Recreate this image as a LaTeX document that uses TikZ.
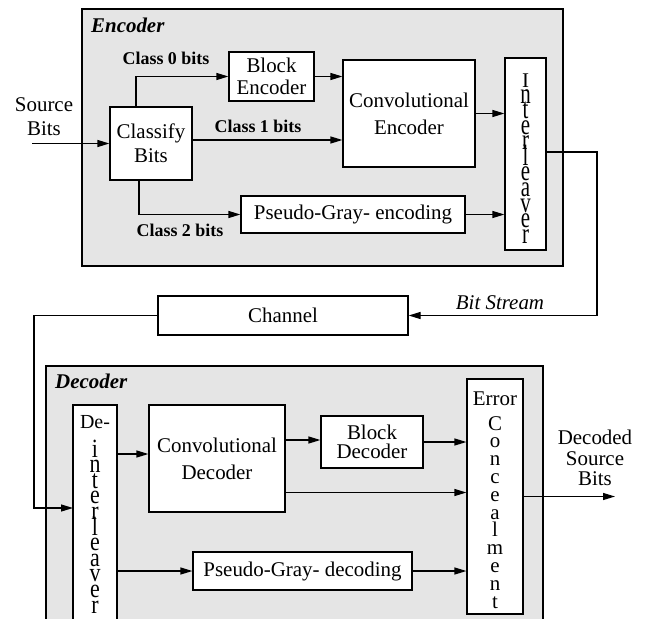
\documentclass[tikz,border=0pt]{standalone}
\usepackage{fontspec}
\usepackage{graphicx}
\setmainfont{Liberation Serif}
\usetikzlibrary{arrows.meta}

% tall, narrow letters for the vertical block labels
\newcommand\tallI[1]{\scalebox{1}[1.4]{#1}}
\newcommand\tallD[1]{\scalebox{1}[1.2]{#1}}

\tikzset{
  frame/.style={draw, fill=black!10, line width=1.2bp},
  box/.style={draw, fill=white, line width=1.2bp, inner sep=0pt, align=center,
              font=\fontsize{21}{24}\selectfont},
  arr/.style={line width=1.2bp, -{Triangle[length=12bp,width=7bp]}},
  classlbl/.style={inner sep=0pt, font=\fontsize{18}{20}\selectfont\bfseries},
  titlelbl/.style={inner sep=0pt, anchor=west, font=\fontsize{21}{24}\selectfont\bfseries\itshape},
  plainlbl/.style={inner sep=0pt, align=center, font=\fontsize{21}{24}\selectfont},
  vlet/.style={inner sep=0pt, anchor=base, font=\fontsize{21}{24}\selectfont},
}

\begin{document}
\begin{tikzpicture}[x=1bp,y=-1bp]
\useasboundingbox (0,0) rectangle (646,619);
\clip (0,0) rectangle (646,619);

% grey frames around encoder and decoder
\filldraw[frame] (82,9) rectangle (563,266);
\filldraw[frame] (46,366) rectangle (543,640);
\node[titlelbl] (enctitle) at (91,25) {Encoder};
\node[titlelbl] (dectitle) at (55,381) {Decoder};

% ---------------- encoder ----------------
\node[box, minimum width=82bp, minimum height=73bp] (cls) at (151,143.5) {Classify\\Bits};
\node[box, minimum width=85bp, minimum height=49bp, font=\fontsize{21}{22}\selectfont] (benc) at (271.5,76.5) {Block\\Encoder};
\node[box, minimum width=132bp, minimum height=107bp, font=\fontsize{21}{27}\selectfont] (cenc) at (409,113.5) {Convolutional\\Encoder};
\node[box, minimum width=41bp, minimum height=192bp] (intl) at (525.5,154) {};
\node[vlet] (intl-0) at (525.5,88) {I};
\foreach \ch [count=\k] in {n,t,e,r,l,e,a,v,e,r}
  \node[vlet] (intl-\k) at (525.5,{88+15.5*\k}) {\tallI{\ch}};
\node[box, minimum width=224bp, minimum height=37bp] (penc) at (353,214.5) {Pseudo-Gray- encoding};

\node[plainlbl] (srclbl) at (44,117) {Source\\Bits};
\node[classlbl] (c0lbl) at (166,58) {Class 0 bits};
\node[classlbl] (c1lbl) at (258,126) {Class 1 bits};
\node[classlbl] (c2lbl) at (180,230) {Class 2 bits};

\coordinate (src) at (32,143.5);
\coordinate (c0x) at (136,0);
\coordinate (c2x) at (139,0);
\coordinate (c1y) at (0,140);

\draw[arr] (src) -- (cls.west);
\draw[arr] (cls.north -| c0x) |- (benc.west);
\draw[arr] (benc.east) -- (benc.east -| cenc.west);
\draw[arr] (cls.east |- c1y) -- (cenc.west |- c1y);
\draw[arr] (cenc.east) -- (cenc.east -| intl.west);
\draw[arr] (cls.south -| c2x) |- (penc.west);
\draw[arr] (penc.east) -- (penc.east -| intl.west);

% ---------------- channel ----------------
\node[box, minimum width=250bp, minimum height=39bp] (chan) at (283,315.5) {Channel};
\node[plainlbl, font=\fontsize{21}{24}\selectfont\itshape] (bslbl) at (500,303) {Bit Stream};

\coordinate (outR) at (597,152);
\coordinate (chL) at (34,315.5);
\coordinate (dIn) at (73,508);
\draw[arr] (intl.east |- outR) -- (outR) |- (chan.east);
\draw[arr] (chan.west) -- (chL) |- (dIn);

% ---------------- decoder ----------------
% the de-interleaver runs on past the lower edge of the drawing
\node[box, minimum width=44bp, minimum height=225bp] (dint) at (95,517.5) {};
\node[vlet, font=\fontsize{20}{24}\selectfont] (dint-0) at (95,428) {De-};
\foreach \ch [count=\k] in {i,n,t,e,r,l,e,a,v,e,r}
  \node[vlet, font=\fontsize{22}{24}\selectfont] (dint-\k) at (95,{441.4+15.6*\k}) {\tallD{\ch}};

\node[box, minimum width=136bp, minimum height=107bp, font=\fontsize{21}{27}\selectfont] (cdec) at (217,458.5) {Convolutional\\Decoder};
\node[box, minimum width=102bp, minimum height=52bp, font=\fontsize{21}{19.5}\selectfont] (bdec) at (372,442) {Block\\Decoder};
\node[box, minimum width=219bp, minimum height=38bp] (pdec) at (302.5,571) {Pseudo-Gray- decoding};

\node[box, minimum width=56bp, minimum height=235bp] (err) at (495,496.5) {};
\node[vlet] (err-0) at (495,405) {Error};
\foreach \ch [count=\k] in {C,o,n,c,e,a,l,m,e,n,t}
  \node[vlet] (err-\k) at (495,{412.2+17.8*\k}) {\ch};

\node[plainlbl, font=\fontsize{21}{20.5}\selectfont] (declbl) at (595,458) {Decoded\\Source\\Bits};

\coordinate (d1y) at (0,454);
\coordinate (d2y) at (0,440);
\coordinate (d3y) at (0,492.5);
\coordinate (outD) at (615,496.5);

\draw[arr] (dint.east |- d1y) -- (cdec.west |- d1y);
\draw[arr] (cdec.east |- d2y) -- (bdec.west |- d2y);
\draw[arr] (bdec.east) -- (bdec.east -| err.west);
\draw[arr] (cdec.east |- d3y) -- (err.west |- d3y);
\draw[arr] (dint.east |- pdec.west) -- (pdec.west);
\draw[arr] (pdec.east) -- (pdec.east -| err.west);
\draw[arr] (err.east) -- (outD);
\end{tikzpicture}
\end{document}
